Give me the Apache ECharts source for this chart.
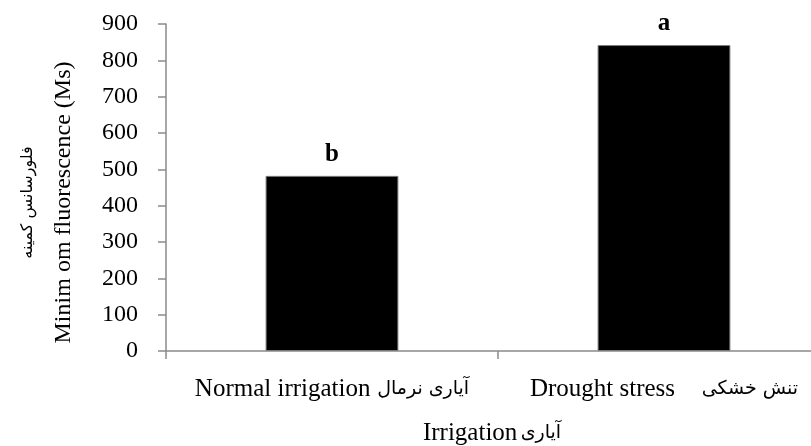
<!DOCTYPE html>
<html>
<head>
<meta charset="utf-8">
<script src="https://cdn.jsdelivr.net/npm/echarts@6/dist/echarts.min.js"></script>
<style>
html,body{margin:0;padding:0;background:#fff;}
#chart{width:811px;height:446px;}
</style>
</head>
<body>
<div id="chart"></div>
<script>
const catEn = ['Normal irrigation', 'Drought stress'];
const catFa = ['آیاری نرمال', 'تنش خشکی'];
const catGap = ['  ', '        '];
const values = [482, 842];
const letters = ['b', 'a'];
const yMin = 0, yMax = 900, yStep = 100;
const xTitleEn = 'Irrigation';
const xTitleFa = 'آیاری';
const yTitleFa = 'فلورسانس کمینه';
const yTitleEn = 'Minim om fluorescence (Ms)';

const categories = catEn.map((e, i) => e + '|' + i);
const serif = '"Liberation Serif", "Times New Roman", serif';
const faFont = '"DejaVu Sans", "Noto Sans", sans-serif';
const chart = echarts.init(document.getElementById('chart'), null, {renderer: 'canvas'});
chart.setOption({
  animation: false,
  backgroundColor: '#ffffff',
  grid: {left: 166, top: 24, width: 664, height: 327, containLabel: false, outerBoundsMode: 'none'},
  xAxis: {
    type: 'category',
    data: categories,
    name: '{en|' + xTitleEn + '} {fa|' + xTitleFa + '}',
    nameLocation: 'middle',
    nameGap: 70,
    nameTextStyle: {
      padding: [0, 12, 0, 0],
      rich: {
        en: {fontFamily: serif, fontSize: 25, color: '#000'},
        fa: {fontFamily: faFont, fontSize: 19, color: '#000'}
      }
    },
    axisLine: {lineStyle: {color: '#8a8a8a', width: 1.5}},
    axisTick: {show: true, length: 8, lineStyle: {color: '#8a8a8a', width: 1.5}},
    axisLabel: {
      margin: 26, interval: 0,
      formatter: function (v) {
        const i = +v.split('|')[1];
        return '{en|' + catEn[i] + '}' + catGap[i] + '{fa|' + catFa[i] + '}';
      },
      rich: {
        en: {fontFamily: serif, fontSize: 25, color: '#000'},
        fa: {fontFamily: faFont, fontSize: 19, color: '#000'}
      }
    }
  },
  yAxis: {
    type: 'value',
    min: yMin, max: yMax, interval: yStep,
    name: '{fa|' + yTitleFa + '}\n{en|' + yTitleEn + '}',
    nameLocation: 'middle',
    nameRotate: 90,
    nameGap: 84,
    nameTextStyle: {
      padding: [0, 30, 0, 0],
      rich: {
        fa: {fontFamily: faFont, fontSize: 16, color: '#000', lineHeight: 36},
        en: {fontFamily: serif, fontSize: 24, color: '#000', lineHeight: 36}
      }
    },
    splitLine: {show: false},
    axisLine: {show: true, lineStyle: {color: '#8a8a8a', width: 1.5}},
    axisTick: {show: true, length: 8, lineStyle: {color: '#8a8a8a', width: 1.5}},
    axisLabel: {fontFamily: serif, fontSize: 24, color: '#000', margin: 28}
  },
  series: [{
    type: 'bar',
    data: values.map((v, i) => ({value: v, label: {formatter: letters[i]}})),
    barWidth: '40%',
    itemStyle: {color: '#000', borderColor: '#7a7a7a', borderWidth: 1},
    label: {show: true, position: 'top', distance: 9, fontFamily: serif, fontSize: 25, fontWeight: 'bold', color: '#000'}
  }]
});
</script>
</body>
</html>
